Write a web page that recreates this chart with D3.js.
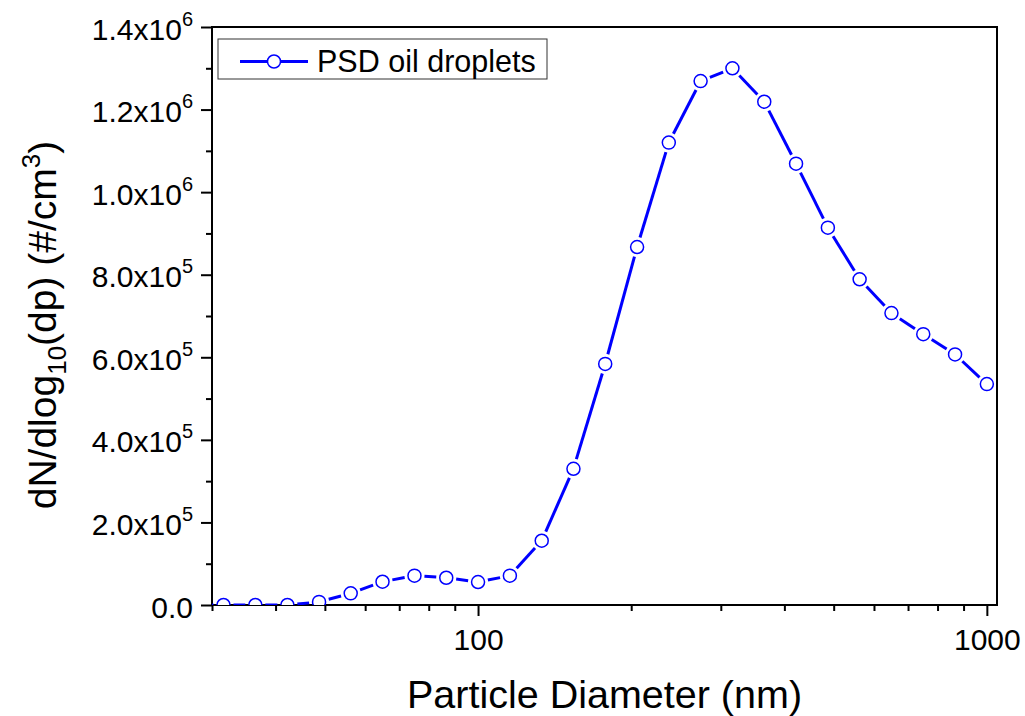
<!DOCTYPE html>
<html>
<head lang="en">
    <meta charset="UTF-8">
    <title>PSD oil droplets</title>
    <script src="https://cdn.jsdelivr.net/npm/d3@7"></script>
    <style>
        body { margin: 0; background: #fff; }
    </style>
</head>
<body>
<div id="chartContainer"></div>
<script type="text/javascript">
    // particle diameter (nm), evenly spaced in log (16 per decade)
    var diameters = [27.4, 31.6, 36.5, 42.2, 48.7, 56.2, 64.9, 75.0, 86.6, 100,
        115.5, 133.4, 154.0, 177.8, 205.4, 237.1, 273.8, 316.2, 365.2, 421.7,
        487.0, 562.3, 649.4, 749.9, 866.0, 1000];
    // dN/dlog10(dp) (#/cm3)
    var counts = [0, 0, 0, 0, 7500, 28300, 56400, 71000, 66000, 55700,
        71000, 155700, 330000, 584000, 867000, 1120000, 1269000, 1300000, 1219000, 1069000,
        914000, 789000, 707000, 656000, 607000, 535000];

    var xMajorTicks = [100, 1000];
    var xMinorTicks = [30, 40, 50, 60, 70, 80, 90, 200, 300, 400, 500, 600, 700, 800, 900];
    var yMajorTicks = [0, 200000, 400000, 600000, 800000, 1000000, 1200000, 1400000];
    var yMinorTicks = [100000, 300000, 500000, 700000, 900000, 1100000, 1300000];
    var seriesName = "PSD oil droplets";

    var width = 1025, height = 716;
    // note: "top" is taken by window.top, so use other names
    var pLeft = 212, pRight = 997, pTop = 27, pBottom = 605;

    var svg = d3.select("#chartContainer").append("svg")
        .attr("width", width)
        .attr("height", height)
        .style("font-family", "'Liberation Sans', Arial, sans-serif");

    var x = d3.scaleLog().domain([30, 1047]).range([pLeft, pRight]);
    var y = d3.scaleLinear().domain([0, 1400000]).range([pBottom, pTop]);

    // x axis: major + minor ticks
    var xAxis = svg.append("g")
        .attr("transform", "translate(0," + pBottom + ")")
        .call(d3.axisBottom(x).tickValues(xMajorTicks).tickSize(11).tickSizeOuter(0)
            .tickFormat(d3.format("d")));
    svg.append("g")
        .attr("transform", "translate(0," + pBottom + ")")
        .call(d3.axisBottom(x).tickValues(xMinorTicks).tickSize(6).tickSizeOuter(0).tickFormat(""));

    // y axis
    var yAxis = svg.append("g")
        .attr("transform", "translate(" + pLeft + ",0)")
        .call(d3.axisLeft(y).tickValues(yMajorTicks).tickSize(11).tickSizeOuter(0).tickFormat(""));
    svg.append("g")
        .attr("transform", "translate(" + pLeft + ",0)")
        .call(d3.axisLeft(y).tickValues(yMinorTicks).tickSize(6).tickSizeOuter(0).tickFormat(""));

    svg.selectAll(".domain").remove();
    svg.selectAll(".tick line").attr("stroke", "#000").attr("stroke-width", 2);
    svg.selectAll("g").attr("font-family", null);

    xAxis.selectAll(".tick text")
        .attr("font-size", 30)
        .attr("fill", "#000")
        .attr("dy", null)
        .attr("y", 45);

    // y tick labels like 1.4x10^6
    yAxis.selectAll(".tick").each(function (d) {
        var t = d3.select(this).append("text")
            .attr("x", -19)
            .attr("y", 12)
            .attr("text-anchor", "end")
            .attr("font-size", 30)
            .attr("fill", "#000");
        if (d === 0) {
            t.text("0.0");
        } else {
            var e = Math.floor(Math.log10(d));
            var m = d / Math.pow(10, e);
            t.append("tspan").text(m.toFixed(1) + "x10");
            t.append("tspan").attr("dy", -14).attr("font-size", 20).text(e);
        }
    });

    // frame
    svg.append("rect")
        .attr("x", pLeft).attr("y", pTop)
        .attr("width", pRight - pLeft).attr("height", pBottom - pTop)
        .attr("fill", "none")
        .attr("stroke", "#000")
        .attr("stroke-width", 2);

    // clip for data
    svg.append("clipPath").attr("id", "plotClip")
        .append("rect")
        .attr("x", pLeft).attr("y", pTop)
        .attr("width", pRight - pLeft).attr("height", pBottom - pTop);

    var pts = diameters.map(function (d, i) { return [x(d), y(counts[i])]; });
    var plot = svg.append("g").attr("clip-path", "url(#plotClip)");

    // line segments with a gap round each marker
    var gap = 10;
    var segs = [];
    for (var i = 0; i < pts.length - 1; i++) {
        var p0 = pts[i], p1 = pts[i + 1];
        var dx = p1[0] - p0[0], dy = p1[1] - p0[1];
        var len = Math.sqrt(dx * dx + dy * dy);
        if (len <= 2 * gap) continue;
        var ux = dx / len, uy = dy / len;
        segs.push([p0[0] + ux * gap, p0[1] + uy * gap, p1[0] - ux * gap, p1[1] - uy * gap]);
    }
    plot.selectAll("line.seg")
        .data(segs)
        .enter().append("line")
        .attr("class", "seg")
        .attr("x1", function (s) { return s[0]; })
        .attr("y1", function (s) { return s[1]; })
        .attr("x2", function (s) { return s[2]; })
        .attr("y2", function (s) { return s[3]; })
        .attr("stroke", "#0000ff")
        .attr("stroke-width", 3);

    plot.selectAll("circle")
        .data(pts)
        .enter().append("circle")
        .attr("cx", function (p) { return p[0]; })
        .attr("cy", function (p) { return p[1]; })
        .attr("r", 6.5)
        .attr("fill", "#fff")
        .attr("stroke", "#0000ff")
        .attr("stroke-width", 1.5);

    // legend
    var lg = svg.append("g");
    lg.append("rect")
        .attr("x", 218).attr("y", 39)
        .attr("width", 329).attr("height", 40)
        .attr("fill", "#fff")
        .attr("stroke", "#333")
        .attr("stroke-width", 1);
    lg.append("line")
        .attr("x1", 240).attr("x2", 308)
        .attr("y1", 61.5).attr("y2", 61.5)
        .attr("stroke", "#0000ff").attr("stroke-width", 3);
    lg.append("circle")
        .attr("cx", 274).attr("cy", 61.5).attr("r", 6.5)
        .attr("fill", "#fff").attr("stroke", "#0000ff").attr("stroke-width", 1.5);
    lg.append("text")
        .attr("x", 317).attr("y", 72)
        .attr("font-size", 30.5)
        .text(seriesName);

    // axis titles
    svg.append("text")
        .attr("x", (pLeft + pRight) / 2)
        .attr("y", 708)
        .attr("text-anchor", "middle")
        .attr("font-size", 39.5)
        .text("Particle Diameter (nm)");

    var yt = svg.append("text")
        .attr("transform", "translate(56,325) rotate(-90)")
        .attr("text-anchor", "middle")
        .attr("font-size", 39);
    yt.append("tspan").text("dN/dlog");
    yt.append("tspan").attr("dy", 10).attr("font-size", 26).text("10");
    yt.append("tspan").attr("dy", -10).text("(dp) (#/cm");
    yt.append("tspan").attr("dy", -16).attr("font-size", 26).text("3");
    yt.append("tspan").attr("dy", 16).text(")");
</script>
</body>
</html>
